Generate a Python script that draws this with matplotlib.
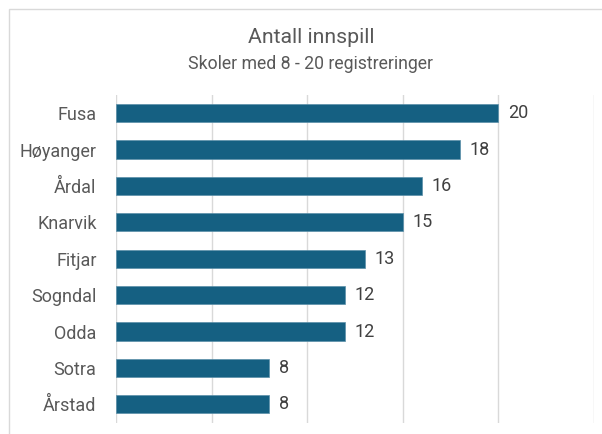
import matplotlib
matplotlib.use("Agg")
import matplotlib.pyplot as plt
from matplotlib.patches import Rectangle

categories = ["Fusa", "Høyanger", "Årdal", "Knarvik", "Fitjar", "Sogndal", "Odda", "Sotra", "Årstad"]
values = [20, 18, 16, 15, 13, 12, 12, 8, 8]
title = "Antall innspill"
subtitle = "Skoler med 8 - 20 registreringer"

plt.rcParams['font.family'] = ['Roboto', 'DejaVu Sans']
W, H = 602, 434
fig = plt.figure(figsize=(W / 100, H / 100), dpi=100)
fig.patch.set_facecolor("white")
fig.add_artist(Rectangle((9 / W, -0.1), 1.2, 1 - 9 / H + 0.1, transform=fig.transFigure,
                         fill=False, edgecolor="#d9d9d9", linewidth=1))

left, right, top, bottom = 116, 594, 95, 422.5
ax = fig.add_axes([left / W, 1 - bottom / H, (right - left) / W, (bottom - top) / H])
y = list(range(len(categories)))
ax.barh(y, values, height=0.5, color="#156082", edgecolor="#5a8fa8", linewidth=0.5, zorder=3)
ax.set_ylim(len(categories) - 0.5, -0.5)
ax.set_xlim(0, 25)
ax.set_xticks([0, 5, 10, 15, 20, 25])
ax.xaxis.grid(True, color="#d9d9d9", linewidth=1, zorder=0)
ax.tick_params(axis="x", length=0, labelbottom=False)
ax.tick_params(axis="y", length=0, pad=14, labelsize=13, labelcolor="#595959")
ax.set_yticks(y)
ax.set_yticklabels(categories)
for s in ax.spines.values():
    s.set_visible(False)
for yi, v in zip(y, values):
    ax.text(v + 0.5, yi, str(v), va="center", ha="left", fontsize=13, color="#404040")

fig.text(311 / W, 1 - 43 / H, title, ha="center", va="baseline", fontsize=15.3, color="#595959")
fig.text(311 / W, 1 - 69 / H, subtitle, ha="center", va="baseline", fontsize=12.7, color="#595959")
fig.savefig("out.png", dpi=100)
